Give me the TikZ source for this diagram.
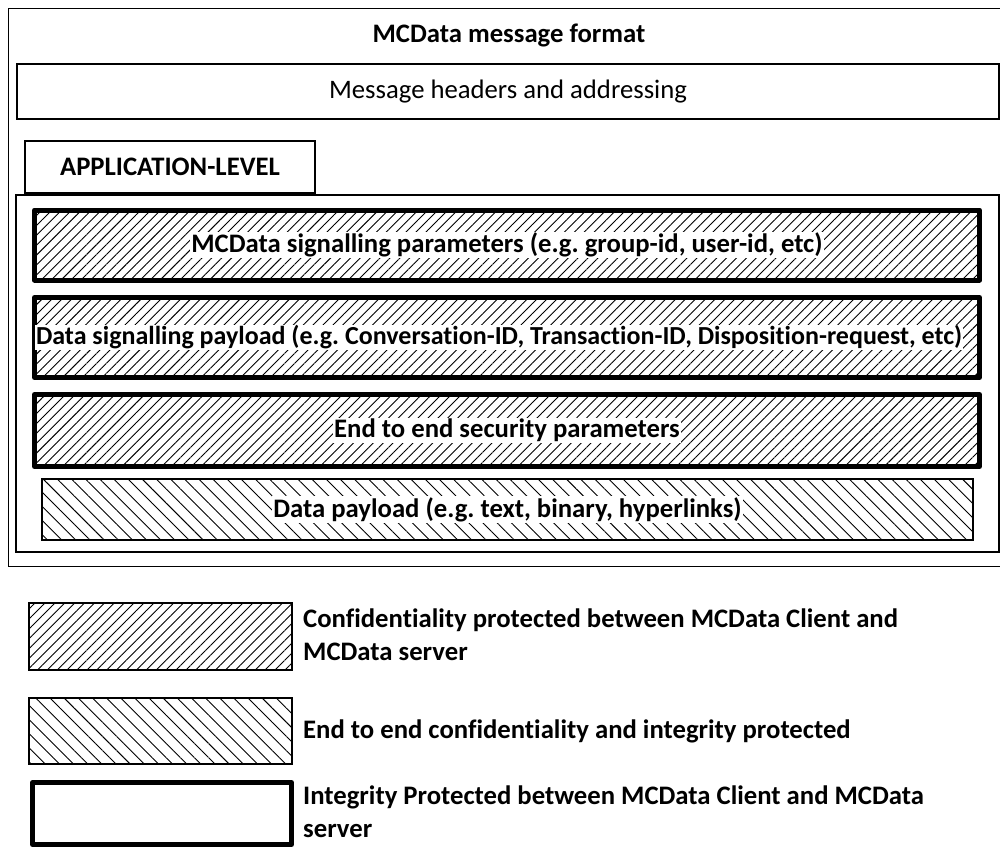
\documentclass[tikz,border=0pt]{standalone}
\usepackage{fontspec}
\setmainfont{Carlito}[Ligatures={NoCommon}]
\usetikzlibrary{patterns.meta}
\frenchspacing

\begin{document}
\begin{tikzpicture}[x=1pt, y=-1pt,
    every node/.style={font=\bfseries\fontsize{26.7}{33}\selectfont},
    box/.style={draw, line width=1.5pt, inner sep=0pt},
    fwdhatch/.style={pattern={Lines[angle=45, distance=7pt, line width=0.9pt]}},
    backhatch/.style={pattern={Lines[angle=-45, distance=10pt, line width=0.9pt]}},
    integ/.style={draw, line width=5pt, line join=round, inner sep=0pt},
    lbl/.style={fill=white, inner sep=1pt},
    legtext/.style={anchor=west, align=left, inner sep=0pt}]
    \useasboundingbox (0,0) rectangle (1000,846);
    % outer frame, open to the right
    \draw[line width=1.5pt] (1010,8.5) -- (8.5,8.5) -- (8.5,566.5) -- (1010,566.5);
    \node (title) at (509,35) {MCData message format};
    \node[box, minimum width=982pt, minimum height=55pt,
        font=\fontsize{26.7}{33}\selectfont] (hdr) at (508,91.5) {Message headers and addressing};
    \node[box, minimum width=290pt, minimum height=52pt] (app) at (170,167) {APPLICATION-LEVEL};
    \node[box, minimum width=983pt, minimum height=357pt] (inner) at (507.5,373.5) {};
    % application-level fields
    \node[integ, fwdhatch, minimum width=945pt, minimum height=70pt] (sig) at (507,245) {};
    \node[lbl] at (sig) {MCData signalling parameters (e.g. group-id, user-id, etc)};
    \node[integ, fwdhatch, minimum width=945pt, minimum height=80pt] (dsp) at (507,337.5) {};
    \node[lbl, font=\bfseries\fontsize{26}{33}\selectfont] at ([xshift=-8pt]dsp.center)
        {Data signalling payload (e.g. Conversation-ID, Transaction-ID, Disposition-request, etc)};
    \node[integ, fwdhatch, minimum width=945pt, minimum height=72pt] (sec) at (507,430.5) {};
    \node[lbl] at (sec) {End to end security parameters};
    \node[box, backhatch, minimum width=931pt, minimum height=61pt] (pay) at (507.5,509.5) {};
    \node[lbl] at (pay) {Data payload (e.g. text, binary, hyperlinks)};
    % legend
    \node[box, fwdhatch, minimum width=263pt, minimum height=67pt] (keyconf) at (160.5,636.5) {};
    \node[box, backhatch, minimum width=263pt, minimum height=66pt] (keyend) at (160.5,731) {};
    \node[integ, minimum width=259pt, minimum height=62pt] (keyint) at (162,813.5) {};
    \node[legtext] at (303,635) {Confidentiality protected between MCData Client and\\MCData server};
    \node[legtext] at (303,731) {End to end confidentiality and integrity protected};
    \node[legtext] at (303,812) {Integrity Protected between MCData Client and MCData\\server};
\end{tikzpicture}
\end{document}
